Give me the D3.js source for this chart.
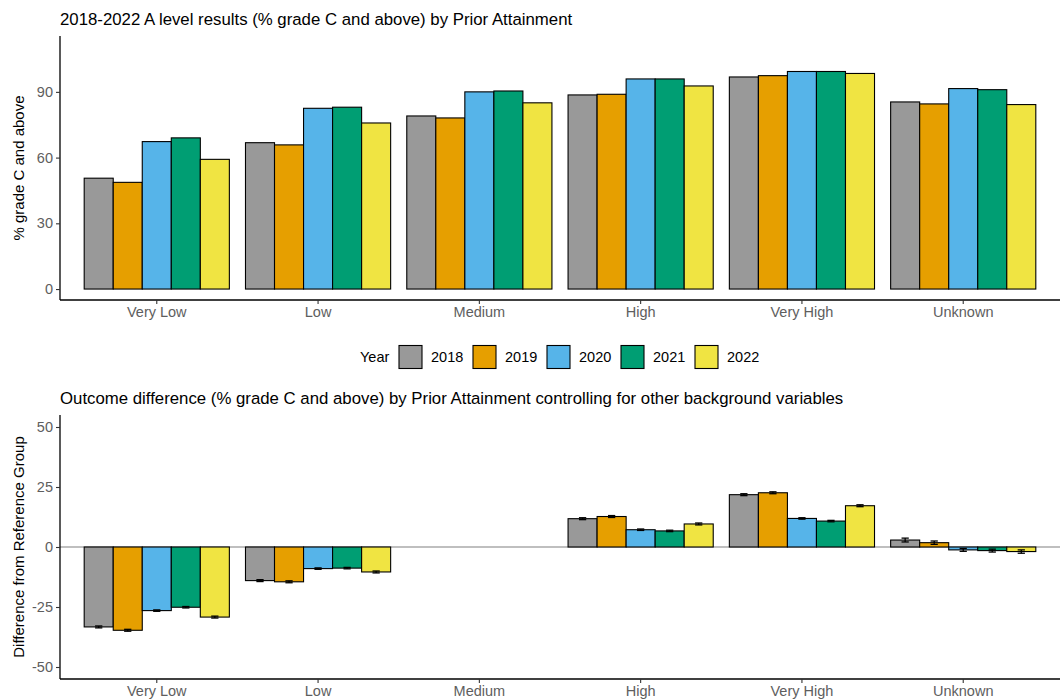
<!DOCTYPE html>
<html>
  <head>
    <meta charset="utf-8" />
    <title>A level results by Prior Attainment</title>
    <script src="https://d3js.org/d3.v7.min.js"></script>
    <style>
        body{
            margin: 0;
            background: #fff;
        }
        text{
            font-family: "Liberation Sans", Arial, sans-serif;
        }
    </style>
  </head>
  <body>
    <svg id="vis"></svg>

    <script>
        // categories and series
        var categories = ["Very Low", "Low", "Medium", "High", "Very High", "Unknown"];
        var years = ["2018", "2019", "2020", "2021", "2022"];
        var colours = ["#999999", "#E69F00", "#56B4E9", "#009E73", "#F0E442"];

        // % grade C and above, one array per year (order follows categories)
        var pct2018 = [50.6, 66.8, 79.0, 88.6, 96.8, 85.4];
        var pct2019 = [48.7, 65.8, 78.1, 88.9, 97.4, 84.5];
        var pct2020 = [67.3, 82.5, 90.0, 95.9, 99.3, 91.5];
        var pct2021 = [69.0, 83.0, 90.4, 95.9, 99.3, 91.0];
        var pct2022 = [59.2, 75.8, 85.0, 92.7, 98.4, 84.2];

        // difference from reference group (Medium is the reference, so no bar)
        var diff2018 = [-33.3, -14.0, null, 11.8, 21.8, 2.9];
        var diff2019 = [-34.7, -14.5, null, 12.7, 22.6, 1.8];
        var diff2020 = [-26.5, -9.0, null, 7.2, 11.9, -1.2];
        var diff2021 = [-25.1, -8.8, null, 6.7, 10.8, -1.5];
        var diff2022 = [-29.2, -10.4, null, 9.6, 17.2, -1.9];

        // standard errors for the difference
        var se2018 = [0.4, 0.4, null, 0.4, 0.4, 0.8];
        var se2019 = [0.4, 0.4, null, 0.4, 0.4, 0.7];
        var se2020 = [0.3, 0.3, null, 0.3, 0.3, 0.6];
        var se2021 = [0.3, 0.3, null, 0.3, 0.3, 0.6];
        var se2022 = [0.4, 0.4, null, 0.4, 0.4, 0.7];

        var topTicks = [0, 30, 60, 90];
        var bottomTicks = [-50, -25, 0, 25, 50];

        var pctSeries = [pct2018, pct2019, pct2020, pct2021, pct2022];
        var diffSeries = [diff2018, diff2019, diff2020, diff2021, diff2022];
        var seSeries = [se2018, se2019, se2020, se2021, se2022];

        var width = 1060, height = 700;
        var svg = d3.select("#vis").attr("width", width).attr("height", height);

        var tickGrey = "#5e5e5e";

        var x = d3.scaleBand().domain(categories).range([60, 1060])
            .paddingInner(0.1).paddingOuter(0.15);
        var xi = d3.scaleBand().domain(years).range([0, x.bandwidth()]);
        var colour = d3.scaleOrdinal().domain(years).range(colours);

        function rows(series, seList) {
            var out = [];
            categories.forEach(function(c, i) {
                years.forEach(function(y, j) {
                    var v = series[j][i];
                    if (v === null) return;
                    out.push({cat: c, year: y, value: v, se: seList ? seList[j][i] : null});
                });
            });
            return out;
        }

        function panel(opts) {
            var g = svg.append("g");
            var y = d3.scaleLinear().domain(opts.domain).range([opts.bottom, opts.top]);

            // title
            g.append("text").attr("x", 60).attr("y", opts.top - 11)
                .attr("font-size", 16.8).attr("fill", "#000").text(opts.title);

            // zero line
            if (opts.zeroLine) {
                g.append("line").attr("x1", 60).attr("x2", 1060)
                    .attr("y1", y(0)).attr("y2", y(0))
                    .attr("stroke", "#aaaaaa").attr("stroke-width", 1.3);
            }

            var data = rows(opts.series, opts.se);

            g.selectAll("rect.bar").data(data).enter().append("rect")
                .attr("class", "bar")
                .attr("x", function(d) { return x(d.cat) + xi(d.year); })
                .attr("width", xi.bandwidth())
                .attr("y", function(d) { return y(Math.max(0, d.value)); })
                .attr("height", function(d) { return Math.abs(y(d.value) - y(0)); })
                .attr("fill", function(d) { return colour(d.year); })
                .attr("stroke", "#000").attr("stroke-width", 1.1);

            if (opts.se) {
                var cap = xi.bandwidth() * 0.25;
                var eb = g.selectAll("g.eb").data(data).enter().append("g").attr("class", "eb")
                    .attr("stroke", "#000").attr("stroke-width", 1.3);
                eb.append("line")
                    .attr("x1", function(d) { return x(d.cat) + xi(d.year) + xi.bandwidth() / 2; })
                    .attr("x2", function(d) { return x(d.cat) + xi(d.year) + xi.bandwidth() / 2; })
                    .attr("y1", function(d) { return y(d.value - d.se); })
                    .attr("y2", function(d) { return y(d.value + d.se); });
                [-1, 1].forEach(function(s) {
                    eb.append("line")
                        .attr("x1", function(d) { return x(d.cat) + xi(d.year) + xi.bandwidth() / 2 - cap / 2; })
                        .attr("x2", function(d) { return x(d.cat) + xi(d.year) + xi.bandwidth() / 2 + cap / 2; })
                        .attr("y1", function(d) { return y(d.value + s * d.se); })
                        .attr("y2", function(d) { return y(d.value + s * d.se); });
                });
            }

            // axes
            var yAxis = d3.axisLeft(y).tickValues(opts.ticks).tickSize(4).tickPadding(3)
                .tickFormat(function(d) { return String(d); });
            var ya = g.append("g").attr("transform", "translate(60,0)").call(yAxis);
            var xAxis = d3.axisBottom(x).tickSize(4).tickPadding(3);
            var xa = g.append("g").attr("transform", "translate(0," + opts.bottom + ")").call(xAxis);

            [ya, xa].forEach(function(a) {
                a.select(".domain").attr("stroke", "#000").attr("stroke-width", 1.3);
                a.selectAll(".tick line").attr("stroke", "#333").attr("stroke-width", 1.1);
                a.selectAll(".tick text").attr("fill", tickGrey).attr("font-size", 14.5)
                    .attr("font-family", "'Liberation Sans', Arial, sans-serif");
            });
            ya.select(".domain").attr("d", "M0," + opts.bottom + "V" + opts.top);
            xa.select(".domain").attr("d", "M60,0H1060");

            // y label
            var mid = (opts.top + opts.bottom) / 2;
            g.append("text").attr("transform", "translate(24," + mid + ") rotate(-90)")
                .attr("text-anchor", "middle").attr("font-size", 15).attr("fill", "#000")
                .text(opts.ylabel);
        }

        panel({
            title: "2018-2022 A level results (% grade C and above) by Prior Attainment",
            top: 36, bottom: 300, domain: [-5, 115.5], ticks: topTicks,
            series: pctSeries, ylabel: "% grade C and above"
        });

        panel({
            title: "Outcome difference (% grade C and above) by Prior Attainment controlling for other background variables",
            top: 415, bottom: 679, domain: [-55, 55], ticks: bottomTicks,
            series: diffSeries, se: seSeries, zeroLine: true,
            ylabel: "Difference from Reference Group"
        });

        // legend
        var legend = svg.append("g").attr("transform", "translate(0,357)");
        legend.append("text").attr("x", 360).attr("y", 5).attr("font-size", 14.5)
            .attr("fill", "#000").text("Year");
        var items = legend.selectAll("g.item").data(years).enter().append("g")
            .attr("class", "item")
            .attr("transform", function(d, i) { return "translate(" + (399 + i * 74) + ",0)"; });
        items.append("rect").attr("x", 0).attr("y", -11.5).attr("width", 23).attr("height", 23)
            .attr("fill", function(d) { return colour(d); })
            .attr("stroke", "#000").attr("stroke-width", 1.1);
        items.append("text").attr("x", 32).attr("y", 5).attr("font-size", 14.5)
            .attr("fill", "#000").text(function(d) { return d; });
    </script>
  </body>
</html>
